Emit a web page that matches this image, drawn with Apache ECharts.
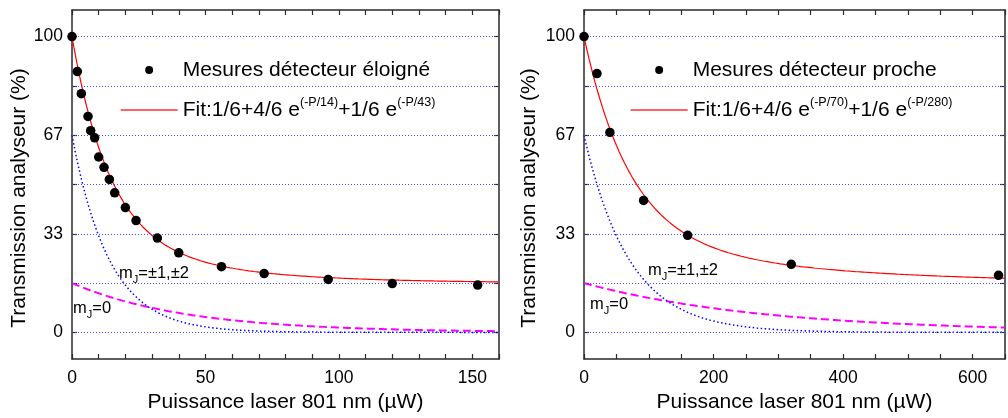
<!DOCTYPE html>
<html><head><meta charset="utf-8">
<script src="https://cdn.jsdelivr.net/npm/echarts@6/dist/echarts.min.js"></script>
<style>html,body{margin:0;padding:0;background:#fff}#c{width:1008px;height:418px}</style>
</head><body><div id="c"></div>
<script>
// ---- data ----
const powerFar = [0, 2, 3.5, 6, 7, 8.5, 10, 12, 14, 16, 20, 24, 32, 40, 56, 72, 96, 120, 152];
const transFar = [100, 88.2, 80.7, 73.0, 68.2, 65.8, 59.3, 55.8, 51.7, 47.2, 42.2, 37.8, 31.9, 26.9, 22.2, 19.9, 17.9, 16.5, 16.0];
const powerNear = [0, 20, 40, 92, 160, 320, 640];
const transNear = [100, 87.5, 67.6, 44.6, 32.8, 23.0, 19.3];
// fit parameters shown in the legend: 1/6 + 4/6 e^(-P/tau1) + 1/6 e^(-P/tau2)
const fitWeights = [1/6, 4/6, 1/6];
const fitTauFar = [14, 43];
const fitTauNear = [70, 280];
const xRangeFar = [0, 160];
const xRangeNear = [0, 650];
const yGridLevels = [0, 100/6, 200/6, 50, 400/6, 500/6, 100];
const yLabelLevels = [0, 100/3, 200/3, 100];
const nameFar = 'Mesures détecteur éloigné';
const nameNear = 'Mesures détecteur proche';
const fitNameFar = 'Fit:1/6+4/6 e(-P/14)+1/6 e(-P/43)';
const fitNameNear = 'Fit:1/6+4/6 e(-P/70)+1/6 e(-P/280)';
const titleX = 'Puissance laser 801 nm (µW)';
const titleY = 'Transmission analyseur (%)';

// ---- fit curves (from the stated fit formula) ----
function curves(tau, range, step) {
  const full = [], fast = [], slow = [];
  for (let p = range[0]; p <= range[1] + 1e-9; p += step) {
    const f = 100 * fitWeights[1] * Math.exp(-p / tau[0]);
    const s = 100 * fitWeights[2] * Math.exp(-p / tau[1]);
    full.push([p, 100 * fitWeights[0] + f + s]);
    fast.push([p, f]);
    slow.push([p, s]);
  }
  return {full, fast, slow};
}
const cFar = curves(fitTauFar, xRangeFar, 0.25);
const cNear = curves(fitTauNear, xRangeNear, 1);

const FONT = '"Liberation Sans", Arial, Helvetica, sans-serif';
const AX = '#2a2a2a';

function xAxes(grid, range, interval, labelStep) {
  const base = {
    gridIndex: grid, type: 'value', min: range[0], max: range[1], interval: interval,
    splitLine: {show: false},
    axisLine: {show: true, onZero: false, lineStyle: {color: AX, width: 1.5}},
    axisTick: {show: true, inside: true, length: 5, lineStyle: {color: AX, width: 1.2}}
  };
  return [
    Object.assign({}, base, {
      position: 'bottom', name: titleX, nameLocation: 'middle', nameGap: 31,
      nameTextStyle: {fontFamily: FONT, fontSize: 21, color: '#000'},
      axisLabel: {show: true, margin: 10, fontFamily: FONT, fontSize: 17.5, color: '#000',
        showMaxLabel: true,
        formatter: v => (Math.abs(v % labelStep) < 1e-6 ? String(v) : '')}
    }),
    Object.assign({}, base, {position: 'top', axisLabel: {show: false}})
  ];
}
function yAxes(grid) {
  const base = {
    gridIndex: grid, type: 'value', min: -9, max: 109,
    splitLine: {show: false},
    axisLine: {show: true, onZero: false, lineStyle: {color: AX, width: 1.5}},
    axisTick: {show: true, inside: true, length: 5, customValues: yGridLevels, lineStyle: {color: AX, width: 1.2}}
  };
  return [
    Object.assign({}, base, {position: 'left',
      axisLabel: {show: true, margin: 9, customValues: yLabelLevels, fontFamily: FONT, fontSize: 17.5, color: '#000',
        formatter: v => String(Math.round(v))}}),
    Object.assign({}, base, {position: 'right', axisLabel: {show: false}})
  ];
}

function seriesFor(k, meas, fitName, pw, tr, c) {
  const xi = 2 * k, yi = 2 * k;
  return [
    {type: 'line', xAxisIndex: xi, yAxisIndex: yi, data: [], silent: true, z: 1,
      markLine: {silent: true, symbol: ['none', 'none'], label: {show: false},
        lineStyle: {color: '#4a4aff', type: [1, 2], width: 1},
        data: yGridLevels.map(v => ({yAxis: v}))}},
    {type: 'line', name: 'slow' + k, xAxisIndex: xi, yAxisIndex: yi, data: c.slow, symbol: 'none', z: 2,
      lineStyle: {color: '#ff00ff', width: 2, type: [8, 4]}},
    {type: 'line', name: 'fast' + k, xAxisIndex: xi, yAxisIndex: yi, data: c.fast, symbol: 'none', z: 3,
      lineStyle: {color: '#0000ff', width: 1.5, type: [1.5, 2.5]}},
    {type: 'line', name: fitName, xAxisIndex: xi, yAxisIndex: yi, data: c.full, symbol: 'none', z: 4,
      color: '#ff0000', lineStyle: {color: '#ff0000', width: 1.2}},
    {type: 'scatter', name: meas, xAxisIndex: xi, yAxisIndex: yi, z: 5,
      data: pw.map((p, i) => [p, tr[i]]), symbol: 'circle', symbolSize: 9.5,
      itemStyle: {color: '#000', opacity: 1}}
  ];
}

function legendFor(left, meas, fitName) {
  return {
    orient: 'vertical', left: left, top: 51, itemWidth: 57, itemHeight: 8, itemGap: 12,
    selectedMode: false,
    data: [
      {name: meas, icon: 'circle', itemStyle: {color: '#000', opacity: 1}},
      {name: fitName, itemStyle: {opacity: 0}, lineStyle: {color: '#ff3030', width: 1.3}}
    ],
    formatter: n => n.replace(/e\((-P\/\d+)\)/g, 'e{sup|($1)}'),
    textStyle: {fontFamily: FONT, fontSize: 21, color: '#000', lineHeight: 28,
      rich: {sup: {fontFamily: FONT, fontSize: 12.5, color: '#000', lineHeight: 12, verticalAlign: 'top'}}}
  };
}

function mjLabel(x, y, txt) {
  return {type: 'text', x: x, y: y, silent: true,
    style: {text: txt, fontFamily: FONT, fontSize: 16.5, fill: '#000', verticalAlign: 'middle', align: 'left',
      lineHeight: 24,
      rich: {sub: {fontFamily: FONT, fontSize: 11, fill: '#000', lineHeight: 10, verticalAlign: 'bottom'}}}};
}
function yTitle(x, y) {
  return {type: 'text', x: x, y: y, rotation: Math.PI / 2, silent: true,
    style: {text: titleY, fontFamily: FONT, fontSize: 21, fill: '#000', align: 'center', verticalAlign: 'middle'}};
}

const chart = echarts.init(document.getElementById('c'), null, {renderer: 'canvas'});
chart.setOption({
  animation: false,
  backgroundColor: '#fff',
  grid: [
    {left: 72, top: 10, width: 427, height: 349},
    {left: 584, top: 10, width: 427, height: 349}
  ],
  xAxis: [].concat(xAxes(0, xRangeFar, 10, 50), xAxes(1, xRangeNear, 50, 200)),
  yAxis: [].concat(yAxes(0), yAxes(1)),
  legend: [legendFor(115, nameFar, fitNameFar), legendFor(625, nameNear, fitNameNear)],
  series: [].concat(
    seriesFor(0, nameFar, fitNameFar, powerFar, transFar, cFar),
    seriesFor(1, nameNear, fitNameNear, powerNear, transNear, cNear)
  ),
  graphic: [
    yTitle(19, 198), yTitle(529, 198),
    mjLabel(119, 273.5, 'm{sub|J}=±1,±2'),
    mjLabel(73, 308.5, 'm{sub|J}=0'),
    mjLabel(648, 270.5, 'm{sub|J}=±1,±2'),
    mjLabel(590, 304.5, 'm{sub|J}=0')
  ]
});
</script></body></html>
